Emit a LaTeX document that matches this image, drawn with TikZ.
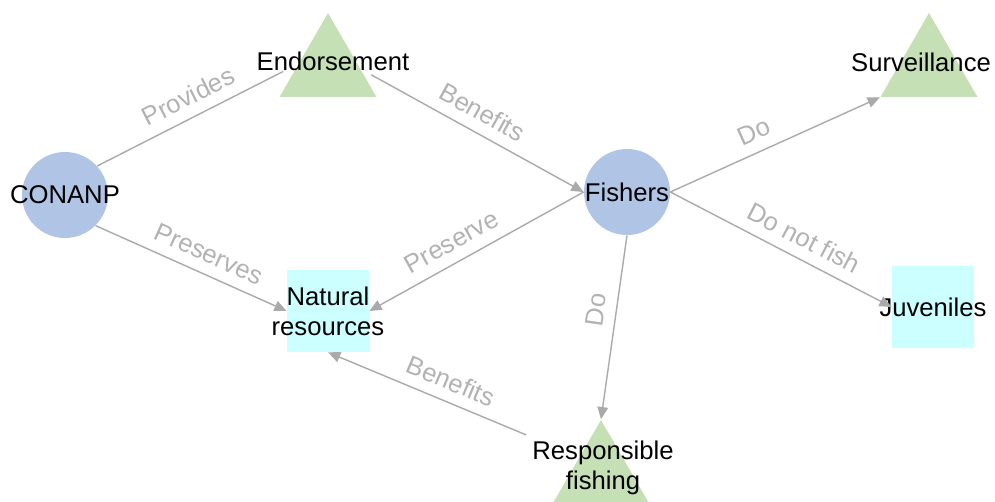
\documentclass[tikz,border=0pt]{standalone}
\usepackage{fontspec}
\setmainfont{Liberation Sans}
\usetikzlibrary{shapes.geometric,arrows.meta}
\definecolor{circfill}{RGB}{176,196,230}
\definecolor{trifill}{RGB}{197,224,180}
\definecolor{boxfill}{RGB}{204,255,255}
\definecolor{linkgray}{RGB}{170,170,170}
\definecolor{labgray}{RGB}{178,178,178}
\tikzset{
  actor/.style={circle,fill=circfill,minimum size=1.72cm,inner sep=0pt},
  action/.style={regular polygon,regular polygon sides=3,fill=trifill,minimum size=2.24cm,inner sep=0pt},
  thing/.style={rectangle,fill=boxfill,minimum width=1.64cm,minimum height=1.64cm,inner sep=0pt},
  txt/.style={font=\fontsize{14.6}{17}\selectfont,text=black,align=center},
  link/.style={draw=linkgray,line width=0.8pt,-{Triangle[length=7pt,width=6pt]}},
  lab/.style={sloped,above=0.1cm,font=\fontsize{14.6}{17}\selectfont,text=labgray}
}
\begin{document}
\begin{tikzpicture}[x=0.02cm,y=-0.02cm]
\useasboundingbox (0,0) rectangle (995,501);
% nodes
\node[actor,label={[txt]center:CONANP}] (conanp) at (65,195) {};
\node[actor,label={[txt]center:Fishers}] (fishers) at (627,192) {};
\node[action,label={[txt,xshift=.1cm,yshift=.16cm]center:Endorsement}] (endorse) at (328,69) {};
\node[action,label={[txt,xshift=-.16cm,yshift=.14cm]center:Surveillance}] (surv) at (929,69) {};
\node[action,label={[txt,name=resptxt,xshift=.04cm,yshift=.16cm]center:Responsible\\fishing}] (resp) at (601,476) {};
\node[thing,label={[txt]center:Natural\\resources}] (natres) at (328,311) {};
\node[thing,label={[txt]center:Juveniles}] (juv) at (933,307) {};
% links
\draw[link,-,shorten >=0.34cm] (conanp.42) -- (endorse.170) node[lab,midway]{Provides};
\draw[link,shorten <=0.24cm] (endorse.0) -- (fishers.west) node[lab,midway]{Benefits};
\draw[link] (conanp.-45) -- (natres.west) node[lab,pos=.55]{Preserves};
\draw[link] (fishers.west) -- (natres.east) node[lab,pos=.57]{Preserve};
\draw[link] (fishers.east) -- (surv.corner 2) node[lab,pos=.44]{Do};
\draw[link] (fishers.east) -- (juv.west) node[lab,pos=.56]{Do not fish};
\draw[link] (fishers.south) -- (resp.corner 1) node[lab,pos=.42]{Do};
\draw[link] (resptxt.north west) -- (natres.south) node[lab,pos=.42]{Benefits};
\end{tikzpicture}
\end{document}
